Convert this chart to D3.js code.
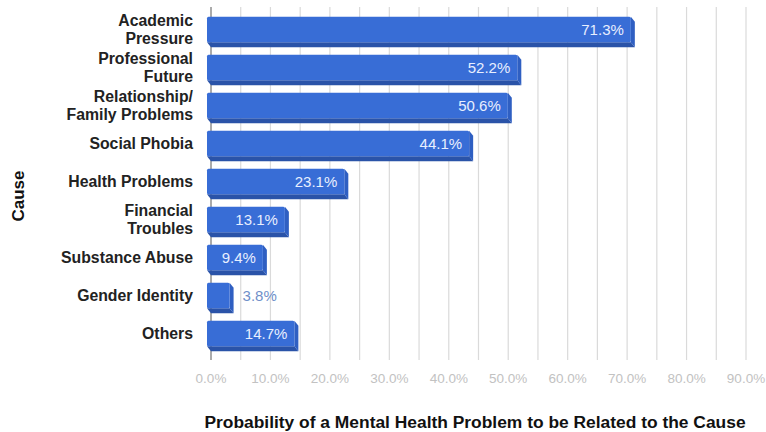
<!DOCTYPE html>
<html>
<head>
<meta charset="utf-8">
<script src="https://cdn.jsdelivr.net/npm/d3@7"></script>
<style>
  body { margin: 0; background: #fff; }
  svg { display: block; font-family: "Liberation Sans", Arial, sans-serif; }
</style>
</head>
<body>
<div id="chart"></div>
<script>
var causes = [
  ["Academic", "Pressure"],
  ["Professional", "Future"],
  ["Relationship/", "Family Problems"],
  ["Social Phobia"],
  ["Health Problems"],
  ["Financial", "Troubles"],
  ["Substance Abuse"],
  ["Gender Identity"],
  ["Others"]
];
var probabilities = [71.3, 52.2, 50.6, 44.1, 23.1, 13.1, 9.4, 3.8, 14.7];
var xTicks = [0, 10, 20, 30, 40, 50, 60, 70, 80, 90];
var gridTicks = [5, 10, 15, 20, 25, 30, 35, 40, 45, 50, 55, 60, 65, 70, 75, 80, 85, 90];

var width = 766,
    height = 432;

var names = causes.map(d => d.join(" "));

var x = d3.scaleLinear().domain([0, 90]).range([211, 746]);
var y = d3.scaleBand().domain(names).range([13, 355]).paddingInner(0.2).paddingOuter(0.1);

var dx = 4, dy = 5;

var svg = d3.select("#chart").append("svg")
    .attr("width", width)
    .attr("height", height);

// grid
svg.append("g").selectAll("line")
  .data(gridTicks)
  .join("line")
    .attr("x1", d => x(d)).attr("x2", d => x(d))
    .attr("y1", 7).attr("y2", 360)
    .attr("stroke", "#dadada")
    .attr("stroke-width", 1.2);

svg.append("line")
    .attr("x1", x(0)).attr("x2", x(0))
    .attr("y1", 7).attr("y2", 360)
    .attr("stroke", "#8f8f8f")
    .attr("stroke-width", 1.5);

// bars
var bars = svg.append("g").selectAll("g")
  .data(names.map((n, i) => ({name: n, value: probabilities[i]})))
  .join("g");

var bh = y.bandwidth() - dy;

bars.append("path")
    .attr("fill", "#2a53a8")
    .attr("d", d => {
      var x0 = x(0) - dx, x1 = x(d.value) - dx, yb = y(d.name) + bh;
      return `M${x0},${yb}L${x1},${yb}L${x1 + dx},${yb + dy}L${x0 + dx},${yb + dy}Z`;
    });

bars.append("path")
    .attr("fill", "#2f5fc2")
    .attr("d", d => {
      var x1 = x(d.value) - dx, y0 = y(d.name);
      return `M${x1},${y0}L${x1 + dx},${y0 + dy}L${x1 + dx},${y0 + bh + dy}L${x1},${y0 + bh}Z`;
    });

bars.append("rect")
    .attr("x", x(0) - dx)
    .attr("y", d => y(d.name))
    .attr("width", d => x(d.value) - x(0))
    .attr("height", bh)
    .attr("rx", 1.5)
    .attr("fill", "#386dd6");

bars.append("text")
    .attr("x", d => d.value > 6 ? x(d.value) - dx - 7 : x(d.value) + 9)
    .attr("y", d => y(d.name) + bh / 2)
    .attr("dy", "0.35em")
    .attr("text-anchor", d => d.value > 6 ? "end" : "start")
    .attr("fill", d => d.value > 6 ? "#e8efff" : "#6f8fc9")
    .style("font-size", "15px")
    .text(d => d.value.toFixed(1) + "%");

// category labels
var cats = svg.append("g").selectAll("text")
  .data(causes)
  .join("text")
    .attr("text-anchor", "end")
    .attr("x", 193)
    .attr("y", (d, i) => y(names[i]) + bh / 2 - (d.length - 1) * 9)
    .attr("dy", "0.35em")
    .attr("fill", "#222")
    .style("font-size", "15.8px")
    .style("font-weight", "bold");

cats.selectAll("tspan")
  .data(d => d)
  .join("tspan")
    .attr("x", 193)
    .attr("dy", (d, i) => i === 0 ? "0.35em" : 18)
    .text(d => d);

// x tick labels
svg.append("g").selectAll("text")
  .data(xTicks)
  .join("text")
    .attr("x", d => x(d))
    .attr("y", 383)
    .attr("text-anchor", "middle")
    .attr("fill", "#c2c2c2")
    .style("font-size", "13.5px")
    .text(d => d.toFixed(1) + "%");

// axis titles
svg.append("text")
    .attr("x", 475)
    .attr("y", 428)
    .attr("text-anchor", "middle")
    .attr("fill", "#111")
    .style("font-size", "17.4px")
    .style("font-weight", "bold")
    .text("Probability of a Mental Health Problem to be Related to the Cause");

svg.append("text")
    .attr("transform", "translate(24,196) rotate(-90)")
    .attr("text-anchor", "middle")
    .attr("fill", "#111")
    .style("font-size", "17px")
    .style("font-weight", "bold")
    .text("Cause");
</script>
</body>
</html>
